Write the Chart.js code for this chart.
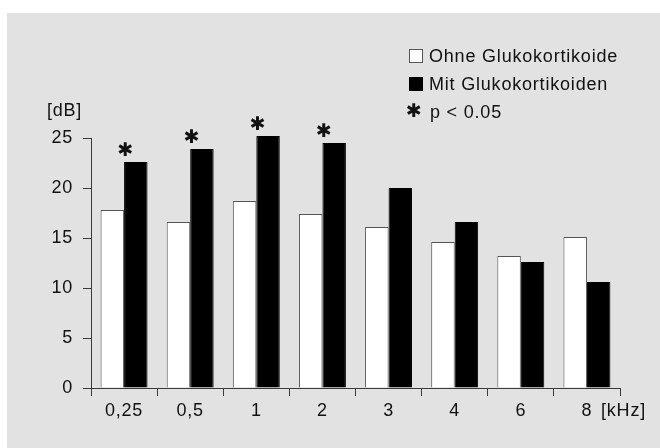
<!DOCTYPE html>
<html>
<head>
<meta charset="utf-8">
<script src="https://cdn.jsdelivr.net/npm/chart.js@4/dist/chart.umd.min.js"></script>
<style>
  html, body { margin: 0; padding: 0; background: #ffffff; }
  #panel { position: absolute; left: 7px; top: 13px; width: 653px; height: 435px; background: #e2e2e2; }
  #wrap { position: absolute; left: 0; top: 0; width: 660px; height: 448px; }
</style>
</head>
<body>
<div id="panel"></div>
<div id="wrap"><canvas id="chart" width="660" height="448"></canvas></div>
<script>
// Frequencies (kHz)
const frequencies = ['0,25', '0,5', '1', '2', '3', '4', '6', '8'];
// Hearing gain in dB
const ohneGluko = [17.8, 16.6, 18.7, 17.4, 16.1, 14.6, 13.2, 15.1];
const mitGluko  = [22.6, 23.9, 25.2, 24.5, 20.0, 16.6, 12.6, 10.6];
// p < 0.05 markers per frequency
const significant = [true, true, true, true, false, false, false, false];
const yTicks = [0, 5, 10, 15, 20, 25];

const FONT = '"Liberation Sans", Arial, sans-serif';
const STAR_FONT = '19px "DejaVu Sans", sans-serif';
const INK = '#111111';
const AXIS = '#3a3a3a';
const SPACING = '0.8px';

const overlay = {
  id: 'overlay',
  beforeDraw(chart) {
    chart.ctx.letterSpacing = SPACING;
  },
  afterDatasetsDraw(chart) {
    const ctx = chart.ctx;
    const x = chart.scales.x, y = chart.scales.y;
    ctx.save();
    ctx.letterSpacing = '0px';
    ctx.fillStyle = INK;
    // significance stars over each marked group
    ctx.font = STAR_FONT;
    ctx.textAlign = 'center';
    ctx.textBaseline = 'middle';
    significant.forEach((s, i) => {
      if (!s) return;
      const top = y.getPixelForValue(Math.max(ohneGluko[i], mitGluko[i]));
      ctx.fillText('\u2731', x.getPixelForValue(i) + 1.5, top - 11);
    });
    ctx.letterSpacing = SPACING;
    // axis units
    ctx.font = '18px ' + FONT;
    ctx.textAlign = 'center';
    ctx.fillText('[dB]', 64.5, 111);
    ctx.textAlign = 'left';
    ctx.fillText('[kHz]', 601, 411);
    // legend
    const lx = 409, rows = [56, 84, 112];
    const ds = chart.data.datasets;
    ds.forEach((d, i) => {
      ctx.fillStyle = d.backgroundColor;
      ctx.fillRect(lx + 0.5, rows[i] - 6.5, 13, 13);
      ctx.strokeStyle = d.borderColor;
      ctx.lineWidth = 1;
      ctx.strokeRect(lx + 0.5, rows[i] - 6.5, 13, 13);
      ctx.fillStyle = INK;
      ctx.font = '18px ' + FONT;
      ctx.textAlign = 'left';
      ctx.fillText(d.label, lx + 20, rows[i] + 1);
    });
    ctx.letterSpacing = '0px';
    ctx.font = STAR_FONT;
    ctx.textAlign = 'center';
    ctx.fillText('\u2731', lx + 5, rows[2]);
    ctx.letterSpacing = SPACING;
    ctx.font = '18px ' + FONT;
    ctx.textAlign = 'left';
    ctx.fillText('p < 0.05', lx + 21, rows[2] + 1);
    ctx.restore();
  }
};

new Chart(document.getElementById('chart'), {
  type: 'bar',
  data: {
    labels: frequencies,
    datasets: [
      { label: 'Ohne Glukokortikoide', data: ohneGluko, backgroundColor: '#ffffff', borderColor: '#555555', borderWidth: 1, clip: false },
      { label: 'Mit Glukokortikoiden', data: mitGluko, backgroundColor: '#000000', borderColor: '#000000', borderWidth: 1, clip: false }
    ]
  },
  options: {
    responsive: false,
    animation: false,
    events: [],
    layout: { padding: { left: 0, top: 138, right: 40, bottom: 0 } },
    datasets: { bar: { categoryPercentage: 0.71, barPercentage: 1.0 } },
    plugins: { legend: { display: false }, tooltip: { enabled: false } },
    scales: {
      x: {
        grid: { display: true, drawOnChartArea: false, offset: true, tickLength: 8, color: AXIS },
        border: { display: true, color: AXIS, width: 1 },
        ticks: { color: INK, font: { family: FONT, size: 18 }, padding: 4, maxRotation: 0 },
        afterFit(s) { s.height = 60; }
      },
      y: {
        min: 0, max: 25,
        afterBuildTicks(s) { s.ticks = yTicks.map(v => ({ value: v })); },
        grid: { display: true, drawOnChartArea: false, tickLength: 8, color: AXIS },
        border: { display: true, color: AXIS, width: 1 },
        ticks: { color: INK, font: { family: FONT, size: 18 }, padding: 10 },
        afterFit(s) { s.width = 91; }
      }
    }
  },
  plugins: [overlay]
});
</script>
</body>
</html>
